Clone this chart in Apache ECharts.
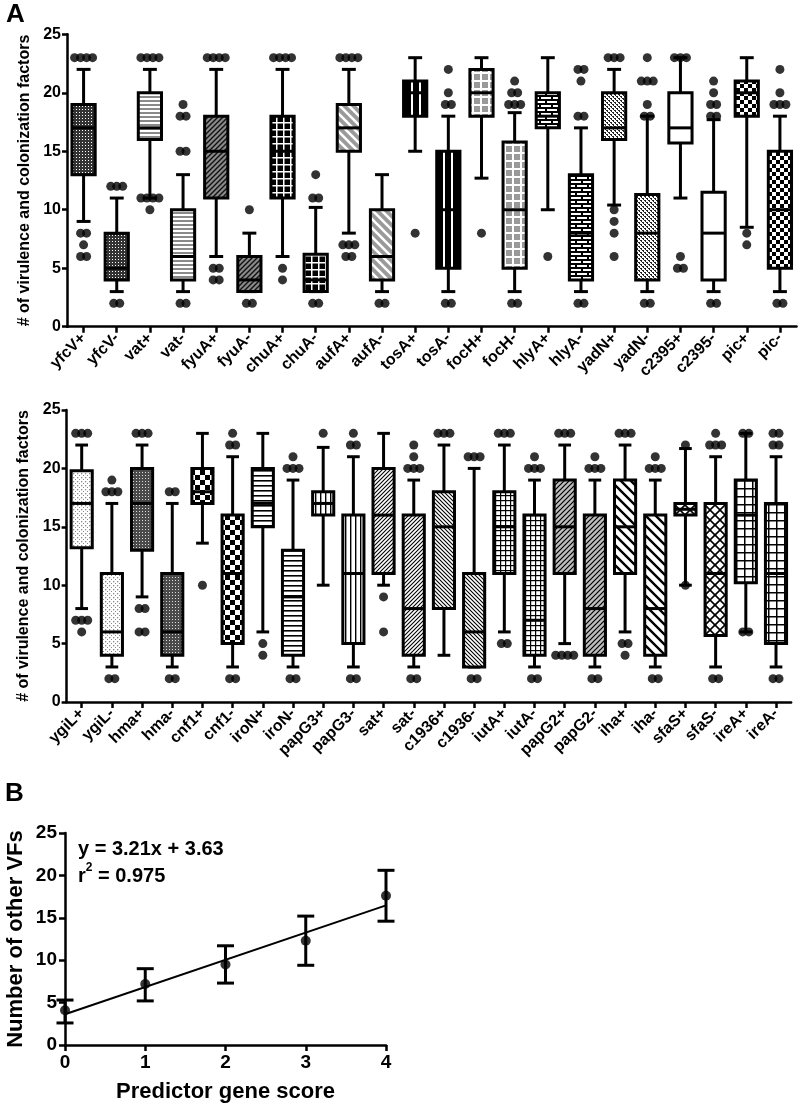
<!DOCTYPE html>
<html>
<head>
<meta charset="utf-8">
<script src="https://cdn.jsdelivr.net/npm/echarts@6/dist/echarts.min.js"></script>
<style>
html,body{margin:0;padding:0;background:#fff;}
#chart{width:800px;height:1112px;}
</style>
</head>
<body>
<div id="chart"></div>
<script>
// ---------- DATA: Panel A (top) ----------
const topCategories = ['yfcV+','yfcV-','vat+','vat-','fyuA+','fyuA-','chuA+','chuA-','aufA+','aufA-','tosA+','tosA-','focH+','focH-','hlyA+','hlyA-','yadN+','yadN-','c2395+','c2395-','pic+','pic-'];
const topWhiskerLow  = [9, 3, 11, 3, 6, 3, 6, 3, 8, 3, 15, 3, 12.7, 3, 10, 3, 10.4, 3, 11, 3, 8.5, 3];
const topQ1          = [13, 4, 16, 4, 11, 3, 11, 3, 15, 4, 18, 5, 18, 5, 17, 4, 16, 4, 15.7, 4, 18, 5];
const topMedian      = [17, 5, 17, 6, 15, 4, 15, 4, 17, 6, 20, 10, 20, 10, 18, 8, 17, 8, 17, 8, 20, 10];
const topQ3          = [19, 8, 20, 10, 18, 6, 18, 6.2, 19, 10, 21, 15, 22, 15.8, 20, 13, 20, 11.3, 20, 11.5, 21, 15];
const topWhiskerHigh = [22, 11, 22, 13, 22, 8, 22, 10.2, 22, 13, 23, 18, 23, 18.3, 23, 17, 22, 18, 23, 17.7, 23, 18];
// outliers: [category, value, number of stacked dots]
const topOutliers = [
  ['yfcV+',23,4],['yfcV+',8,2],['yfcV+',7,1],['yfcV+',6,2],
  ['yfcV-',12,3],['yfcV-',2,2],
  ['vat+',23,4],['vat+',11,4],['vat+',10,1],
  ['vat-',19,1],['vat-',18,2],['vat-',15,2],['vat-',2,2],
  ['fyuA+',23,4],['fyuA+',5,2],['fyuA+',4,2],
  ['fyuA-',10,1],['fyuA-',2,2],
  ['chuA+',23,4],['chuA+',5,1],['chuA+',4,1],
  ['chuA-',13,1],['chuA-',11,2],['chuA-',2,2],
  ['aufA+',23,4],['aufA+',7,3],['aufA+',6,2],
  ['aufA-',2,2],
  ['tosA+',8,1],
  ['tosA-',22,1],['tosA-',20,1],['tosA-',19,2],['tosA-',2,2],
  ['focH+',8,1],
  ['focH-',21,1],['focH-',20,2],['focH-',19,3],['focH-',2,2],
  ['hlyA+',6,1],
  ['hlyA-',22,2],['hlyA-',21,1],['hlyA-',18,2],['hlyA-',2,2],
  ['yadN+',23,3],['yadN+',10,1],['yadN+',9,1],['yadN+',8,1],['yadN+',6,1],
  ['yadN-',23,1],['yadN-',21,3],['yadN-',19,1],['yadN-',18,2],['yadN-',2,2],
  ['c2395+',23,3],['c2395+',6,1],['c2395+',5,2],
  ['c2395-',21,1],['c2395-',20,1],['c2395-',19,2],['c2395-',18,2],['c2395-',2,2],
  ['pic+',8,1],['pic+',7,1],
  ['pic-',22,1],['pic-',20,1],['pic-',19,3],['pic-',2,2]
];

// ---------- DATA: Panel A (bottom) ----------
const botCategories = ['ygiL+','ygiL-','hma+','hma-','cnf1+','cnf1-','iroN+','iroN-','papG3+','papG3-','sat+','sat-','c1936+','c1936-','iutA+','iutA-','papG2+','papG2-','iha+','iha-','sfaS+','sfaS-','ireA+','ireA-'];
const botWhiskerLow  = [8, 3, 9, 3, 13.6, 3, 6, 3, 10, 3, 10, 3, 4, 3, 6, 3, 5, 3, 6, 3, 10, 3, 6, 3];
const botQ1          = [13.2, 4, 13, 4, 17, 5, 15, 4, 16, 5, 11, 4, 8, 3, 11, 4, 11, 4, 11, 4, 16, 5.7, 10.2, 5];
const botMedian      = [17, 6, 17, 6, 18, 11, 17, 9, 17, 11, 16, 8, 15, 6, 15, 7, 15, 8, 15, 8, 16.5, 11, 16, 11];
const botQ3          = [19.8, 11, 20, 11, 20, 16, 20, 13, 18, 16, 20, 16, 18, 11, 18, 16, 19, 16, 19, 16, 17, 17, 19, 17];
const botWhiskerHigh = [22, 17, 22, 17, 23, 21, 23, 19, 21.8, 21, 23, 19, 22, 20, 22, 19, 22, 19, 22, 19, 21.7, 21, 23, 21];
const botOutliers = [
  ['ygiL+',23,3],['ygiL+',7,3],['ygiL+',6,1],
  ['ygiL-',19,1],['ygiL-',18,3],['ygiL-',2,2],
  ['hma+',23,3],['hma+',8,2],['hma+',6,2],
  ['hma-',18,2],['hma-',2,2],
  ['cnf1+',10,1],
  ['cnf1-',23,1],['cnf1-',22,2],['cnf1-',2,2],
  ['iroN+',5,1],['iroN+',4,1],
  ['iroN-',21,1],['iroN-',20,3],['iroN-',2,2],
  ['papG3+',23,1],
  ['papG3-',23,1],['papG3-',22,2],['papG3-',2,2],
  ['sat+',9,1],['sat+',6,1],
  ['sat-',22,1],['sat-',21,1],['sat-',20,3],['sat-',2,2],
  ['c1936+',23,3],
  ['c1936-',21,3],['c1936-',2,2],
  ['iutA+',23,3],['iutA+',5,2],
  ['iutA-',21,1],['iutA-',20,3],['iutA-',2,2],
  ['papG2+',23,3],['papG2+',4,4],
  ['papG2-',21,1],['papG2-',20,3],['papG2-',2,2],
  ['iha+',23,3],['iha+',5,2],['iha+',4,1],
  ['iha-',21,1],['iha-',20,3],['iha-',2,2],
  ['sfaS+',22,1],['sfaS+',10,1],
  ['sfaS-',23,1],['sfaS-',22,3],['sfaS-',2,2],
  ['ireA+',23,2],['ireA+',6,2],
  ['ireA-',23,2],['ireA-',22,2],['ireA-',2,2]
];
const yTicksA = [0, 5, 10, 15, 20, 25];

// ---------- DATA: Panel B ----------
const scoreX    = [0, 1, 2, 3, 4];
const vfMean    = [4.1, 7.2, 9.5, 12.3, 17.6];
const vfLow     = [2.6, 5.2, 7.3, 9.4, 14.6];
const vfHigh    = [5.3, 9.0, 11.7, 15.2, 20.6];
const fitLine   = [[0, 3.63], [4, 16.47]];
const fitText   = 'y = 3.21x + 3.63';
const r2Text    = '0.975';

// ---------- STYLE: fill patterns ----------
function pat(w, h, draw) {
  const c = document.createElement('canvas'); c.width = w; c.height = h;
  const ctx = c.getContext('2d'); draw(ctx, w, h);
  return { image: c, repeat: 'repeat' };
}
function fwd(ctx, w, col, lw) { ctx.strokeStyle = col; ctx.lineWidth = lw; ctx.beginPath();
  ctx.moveTo(0, w); ctx.lineTo(w, 0); ctx.moveTo(-2, 2); ctx.lineTo(2, -2); ctx.moveTo(w - 2, w + 2); ctx.lineTo(w + 2, w - 2); ctx.stroke(); }
function back(ctx, w, col, lw) { ctx.strokeStyle = col; ctx.lineWidth = lw; ctx.beginPath();
  ctx.moveTo(0, 0); ctx.lineTo(w, w); ctx.moveTo(-2, w - 2); ctx.lineTo(2, w + 2); ctx.moveTo(w - 2, -2); ctx.lineTo(w + 2, 2); ctx.stroke(); }
function bg(ctx, w, h, col) { ctx.fillStyle = col; ctx.fillRect(0, 0, w, h); }

const patterns = {
  yfcV: pat(3, 3, (c, w, h) => { bg(c, w, h, '#333'); c.fillStyle = '#fff'; c.fillRect(1, 1, 1, 1); }),
  vat:  pat(1, 4, (c, w, h) => { bg(c, w, h, '#fff'); c.fillStyle = '#8a8a8a'; c.fillRect(0, 0, 1, 2); }),
  fyuA: pat(5, 5, (c, w, h) => { bg(c, w, h, '#8a8a8a'); fwd(c, w, '#111', 1.4); }),
  chuA: pat(7, 7, (c, w, h) => { bg(c, w, h, '#000'); c.fillStyle = '#fff'; c.fillRect(3, 0, 1.5, 7); c.fillRect(0, 3, 7, 1.5); }),
  aufA: pat(9, 9, (c, w, h) => { bg(c, w, h, '#9a9a9a'); back(c, w, '#fff', 2.6); }),
  tosA: pat(8, 1, (c, w, h) => { bg(c, w, h, '#000'); c.fillStyle = '#fff'; c.fillRect(3, 0, 2, 1); }),
  focH: pat(8, 8, (c, w, h) => { bg(c, w, h, '#9a9a9a'); c.fillStyle = '#fff'; c.fillRect(0, 0, 2, 8); c.fillRect(0, 0, 8, 2); }),
  hlyA: pat(12, 8, (c, w, h) => { bg(c, w, h, '#000'); c.fillStyle = '#fff'; c.fillRect(1, 1, 10, 2); c.fillRect(7, 5, 10, 2); c.fillRect(-5, 5, 10, 2); }),
  yadN: pat(4, 4, (c, w, h) => { bg(c, w, h, '#fff'); c.fillStyle = '#222'; c.fillRect(0, 0, 2, 1); c.fillRect(2, 2, 2, 1); c.fillRect(1, 1, 1, 1); c.fillRect(3, 3, 1, 1); }),
  c2395: '#fff',
  pic:  pat(8, 8, (c, w, h) => { bg(c, w, h, '#fff'); c.fillStyle = '#000'; c.fillRect(0, 0, 4, 4); c.fillRect(4, 4, 4, 4); }),
  ygiL: pat(4, 4, (c, w, h) => { bg(c, w, h, '#fff'); c.fillStyle = '#888'; c.fillRect(1, 1, 1.3, 1.3); c.fillRect(3, 3, 1, 1); }),
  hma:  pat(3, 3, (c, w, h) => { bg(c, w, h, '#4a4a4a'); c.fillStyle = '#ddd'; c.fillRect(1, 1, 1, 1); }),
  cnf1: pat(10, 10, (c, w, h) => { bg(c, w, h, '#fff'); c.fillStyle = '#000'; c.fillRect(0, 0, 5, 5); c.fillRect(5, 5, 5, 5); }),
  iroN: pat(1, 5, (c, w, h) => { bg(c, w, h, '#fff'); c.fillStyle = '#000'; c.fillRect(0, 0, 1, 1.6); }),
  papG3: pat(5, 1, (c, w, h) => { bg(c, w, h, '#fff'); c.fillStyle = '#000'; c.fillRect(0, 0, 1.4, 1); }),
  sat:  pat(4, 4, (c, w, h) => { bg(c, w, h, '#fff'); fwd(c, w, '#000', 1.1); }),
  c1936: pat(4, 4, (c, w, h) => { bg(c, w, h, '#fff'); back(c, w, '#000', 1.1); }),
  iutA: pat(5, 5, (c, w, h) => { bg(c, w, h, '#fff'); c.fillStyle = '#000'; c.fillRect(0, 0, 1.2, 5); c.fillRect(0, 0, 5, 1.2); }),
  papG2: pat(5, 5, (c, w, h) => { bg(c, w, h, '#bdbdbd'); fwd(c, w, '#000', 1.2); }),
  iha:  pat(10, 10, (c, w, h) => { bg(c, w, h, '#fff'); back(c, w, '#000', 2.4); }),
  sfaS: pat(10, 10, (c, w, h) => { bg(c, w, h, '#fff'); fwd(c, w, '#000', 1.6); back(c, w, '#000', 1.6); }),
  ireA: pat(8, 8, (c, w, h) => { bg(c, w, h, '#fff'); c.fillStyle = '#000'; c.fillRect(0, 0, 1.5, 8); c.fillRect(0, 0, 8, 1.5); })
};

const FONT = '"Liberation Sans", Arial, Helvetica, sans-serif';

function boxData(cats, lo, q1, md, q3, hi) {
  return cats.map((c, i) => [i, lo[i], q1[i], md[i], q3[i], hi[i]]);
}
function outlierData(cats, list) {
  const out = [];
  list.forEach(([name, v, n]) => {
    const idx = cats.indexOf(name);
    for (let i = 0; i < n; i++) out.push({ value: [idx, v], symbolOffset: [(i - (n - 1) / 2) * 6, 0] });
  });
  return out;
}
function boxRenderer(cats) {
  return function (params, api) {
    const idx = api.value(0);
    const lo = api.coord([idx, api.value(1)]);
    const q1 = api.coord([idx, api.value(2)]);
    const md = api.coord([idx, api.value(3)]);
    const q3 = api.coord([idx, api.value(4)]);
    const hi = api.coord([idx, api.value(5)]);
    const band = api.size([1, 0])[0];
    const bw = band * 0.7, cw = band * 0.42, x = lo[0];
    const gene = cats[idx].slice(0, -1);
    const ln = { stroke: '#000', lineWidth: 3 };
    return { type: 'group', children: [
      { type: 'line', shape: { x1: x, y1: hi[1], x2: x, y2: q3[1] }, style: ln },
      { type: 'line', shape: { x1: x, y1: q1[1], x2: x, y2: lo[1] }, style: ln },
      { type: 'line', shape: { x1: x - cw / 2, y1: hi[1], x2: x + cw / 2, y2: hi[1] }, style: ln },
      { type: 'line', shape: { x1: x - cw / 2, y1: lo[1], x2: x + cw / 2, y2: lo[1] }, style: ln },
      { type: 'rect', shape: { x: x - bw / 2, y: q3[1], width: bw, height: q1[1] - q3[1] },
        style: { fill: patterns[gene], stroke: '#000', lineWidth: 3 } },
      { type: 'line', shape: { x1: x - bw / 2, y1: md[1], x2: x + bw / 2, y2: md[1] }, style: ln }
    ]};
  };
}
function errRenderer(params, api) {
  const x = api.value(0);
  const lo = api.coord([x, api.value(1)]);
  const hi = api.coord([x, api.value(2)]);
  const cw = 17, ln = { stroke: '#000', lineWidth: 3 };
  return { type: 'group', children: [
    { type: 'line', shape: { x1: lo[0], y1: lo[1], x2: hi[0], y2: hi[1] }, style: ln },
    { type: 'line', shape: { x1: lo[0] - cw / 2, y1: lo[1], x2: lo[0] + cw / 2, y2: lo[1] }, style: ln },
    { type: 'line', shape: { x1: hi[0] - cw / 2, y1: hi[1], x2: hi[0] + cw / 2, y2: hi[1] }, style: ln }
  ]};
}

const axisLine = { show: true, lineStyle: { color: '#000', width: 2.5 } };
const axisTick = { show: true, length: 5, lineStyle: { color: '#000', width: 2.5 } };

function catAxis(grid, cats) {
  return { type: 'category', gridIndex: grid, data: cats, boundaryGap: true,
    axisLine, axisTick: Object.assign({ alignWithLabel: true }, axisTick, { length: 6 }),
    axisLabel: { rotate: 45, interval: 0, margin: 9, color: '#000', fontWeight: 'bold', fontSize: 16, fontFamily: FONT },
    splitLine: { show: false } };
}
function valAxisA(grid) {
  return { type: 'value', gridIndex: grid, min: yTicksA[0], max: yTicksA[yTicksA.length - 1], interval: 5,
    name: '# of virulence and colonization factors', nameLocation: 'middle', nameGap: 31, nameRotate: 90,
    nameTextStyle: { color: '#000', fontWeight: 'bold', fontSize: 16, fontFamily: FONT },
    axisLine, axisTick,
    axisLabel: { margin: 6, color: '#000', fontWeight: 'bold', fontSize: 16, fontFamily: FONT },
    splitLine: { show: false } };
}

const chart = echarts.init(document.getElementById('chart'), null, { renderer: 'canvas' });
chart.setOption({
  backgroundColor: '#fff',
  animation: false,
  grid: [
    { left: 67, top: 34.3, width: 729.5, height: 292.4 },
    { left: 66.6, top: 410, width: 724.5, height: 292 },
    { left: 65, top: 833, width: 321, height: 212 }
  ],
  xAxis: [
    catAxis(0, topCategories),
    catAxis(1, botCategories),
    { type: 'value', gridIndex: 2, min: 0, max: 4, interval: 1,
      name: 'Predictor gene score', nameLocation: 'middle', nameGap: 36,
      nameTextStyle: { color: '#000', fontWeight: 'bold', fontSize: 22, fontFamily: FONT },
      axisLine, axisTick: { show: true, length: 6, lineStyle: { color: '#000', width: 2.5 } },
      axisLabel: { margin: 8, color: '#000', fontWeight: 'bold', fontSize: 19, fontFamily: FONT },
      splitLine: { show: false } }
  ],
  yAxis: [
    valAxisA(0),
    valAxisA(1),
    { type: 'value', gridIndex: 2, min: 0, max: 25, interval: 5,
      name: 'Number of other VFs', nameLocation: 'middle', nameGap: 38, nameRotate: 90,
      nameTextStyle: { color: '#000', fontWeight: 'bold', fontSize: 22, fontFamily: FONT },
      axisLine, axisTick: { show: true, length: 6, lineStyle: { color: '#000', width: 2.5 } },
      axisLabel: { margin: 8, color: '#000', fontWeight: 'bold', fontSize: 19, fontFamily: FONT },
      splitLine: { show: false } }
  ],
  series: [
    { type: 'custom', xAxisIndex: 0, yAxisIndex: 0, renderItem: boxRenderer(topCategories),
      encode: { x: 0, y: [1, 2, 3, 4, 5] }, clip: false,
      data: boxData(topCategories, topWhiskerLow, topQ1, topMedian, topQ3, topWhiskerHigh) },
    { type: 'scatter', xAxisIndex: 0, yAxisIndex: 0, symbolSize: 9, z: 5,
      itemStyle: { color: '#000' }, data: outlierData(topCategories, topOutliers) },
    { type: 'custom', xAxisIndex: 1, yAxisIndex: 1, renderItem: boxRenderer(botCategories),
      encode: { x: 0, y: [1, 2, 3, 4, 5] }, clip: false,
      data: boxData(botCategories, botWhiskerLow, botQ1, botMedian, botQ3, botWhiskerHigh) },
    { type: 'scatter', xAxisIndex: 1, yAxisIndex: 1, symbolSize: 9, z: 5,
      itemStyle: { color: '#000' }, data: outlierData(botCategories, botOutliers) },
    { type: 'line', xAxisIndex: 2, yAxisIndex: 2, data: fitLine, symbol: 'none',
      lineStyle: { color: '#000', width: 2 } },
    { type: 'custom', xAxisIndex: 2, yAxisIndex: 2, renderItem: errRenderer, clip: false,
      encode: { x: 0, y: [1, 2] },
      data: scoreX.map((x, i) => [x, vfLow[i], vfHigh[i]]) },
    { type: 'scatter', xAxisIndex: 2, yAxisIndex: 2, symbolSize: 10, z: 5, clip: false,
      itemStyle: { color: '#000' }, data: scoreX.map((x, i) => [x, vfMean[i]]) }
  ],
  graphic: [
    { type: 'text', left: 6, top: 2, style: { text: 'A', font: 'bold 26px ' + FONT, fill: '#000' } },
    { type: 'text', left: 5, top: 781, style: { text: 'B', font: 'bold 26px ' + FONT, fill: '#000' } },
    { type: 'text', left: 78, top: 839, style: { text: fitText, font: 'bold 20px ' + FONT, fill: '#000' } },
    { type: 'text', left: 78, top: 862, style: {
        text: '{a|r}{s|2}{a| = ' + r2Text + '}',
        rich: {
          a: { font: 'bold 20px ' + FONT, fill: '#000', lineHeight: 24, verticalAlign: 'bottom' },
          s: { font: 'bold 12px ' + FONT, fill: '#000', lineHeight: 24, verticalAlign: 'top' }
        } } }
  ]
});
</script>
</body>
</html>
